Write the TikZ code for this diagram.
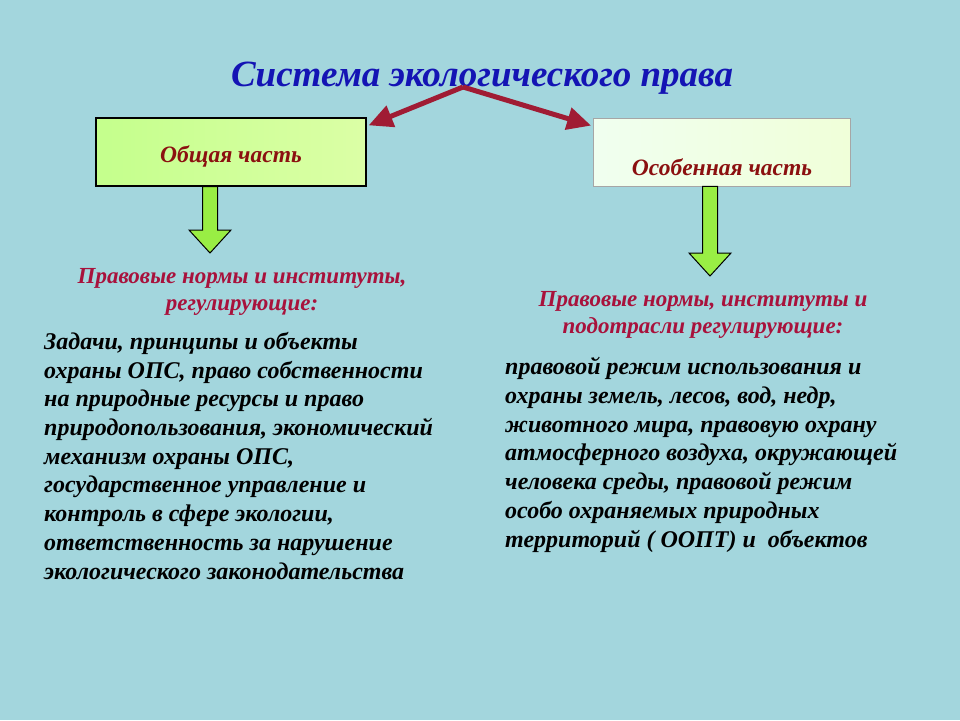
\documentclass[tikz,border=0pt]{standalone}
\usepackage{fontspec}
\setmainfont{Liberation Serif}
\usetikzlibrary{arrows.meta, positioning, calc}
\definecolor{cbg}{HTML}{A3D6DD}
\definecolor{ctitle}{HTML}{1414B4}
\definecolor{cwine}{HTML}{8B1010}
\definecolor{ccrimson}{HTML}{A8123C}
\definecolor{carrow}{HTML}{A01C34}
\definecolor{clime}{HTML}{99EE44}
\tikzset{
  every picture/.style={font=\bfseries\itshape},
  title/.style={text=ctitle, font=\fontsize{37}{42}\selectfont\bfseries\itshape},
  partbox/.style={draw=#1, line width=1.3pt, minimum width=270pt, minimum height=68pt, inner sep=0pt},
  partbox/.default=black,
  boxlabel/.style={text=cwine, font=\fontsize{23.5}{27}\selectfont\bfseries\itshape},
  heading/.style={text=ccrimson, align=center, font=\fontsize{23}{27}\selectfont\bfseries\itshape},
  body/.style={align=left, inner sep=0pt, anchor=base west, font=\fontsize{24}{28.7}\selectfont\bfseries\itshape},
  redarrow/.style={-{Triangle[length=24pt, width=22pt]}, draw=carrow, line width=5pt},
  fat/.style={draw=black, line width=1pt, fill=clime,
    to path={let \p1=(\tikztostart), \p2=(\tikztotarget) in
      (\x1-7.5pt,\y1) -- (\x1-7.5pt,\y2+23pt) -- (\x1-21pt,\y2+23pt) -- (\x2,\y2)
      -- (\x1+21pt,\y2+23pt) -- (\x1+7.5pt,\y2+23pt) -- (\x1+7.5pt,\y1) -- cycle}},
}
\begin{document}
\begin{tikzpicture}[x=1pt, y=-1pt]
  \fill[cbg] (0,0) rectangle (960,720);
  \node[title] (ttl) at (482,78) {Система экологического права};
  % two parts
  \node[partbox, left color=green!35!lime!45!white, right color=green!20!lime!35!white] (gen) at (231,152) {};
  \node[boxlabel] at ([yshift=-4pt]gen.center) {Общая часть};
  \node[partbox=gray!70, line width=0.8pt, minimum width=257pt, left color=green!6!white, right color=green!18!lime!15!white] (spe) at (722,152) {};
  \node[boxlabel] at ([yshift=-15pt]spe.center) {Особенная часть};
  \coordinate (apex) at (463,87);
  \draw[redarrow] (apex) -- ([xshift=2pt, yshift=-8pt]gen.north east);
  \draw[redarrow] (apex) -- ([xshift=-2pt, yshift=-8pt]spe.north west);
  % down arrows
  \coordinate (ltip) at (210,253);
  \coordinate (rtip) at (710,276);
  \draw[fat] (gen.south -| ltip) to (ltip);
  \draw[fat] (spe.south -| rtip) to (rtip);
  % texts
  \node[heading] (lhead) at (242,292) {Правовые нормы и институты,\\регулирующие:};
  \node[heading] (rhead) at (703,315) {Правовые нормы, институты и\\подотрасли регулирующие:};
  \node[body] (lbody) at (44,579) {Задачи, принципы и объекты\\
    охраны ОПС, право собственности\\
    на природные ресурсы и право\\
    природопользования, экономический\\
    механизм охраны ОПС,\\
    государственное управление и\\
    контроль в сфере экологии,\\
    ответственность за нарушение\\
    экологического законодательства};
  \node[body] (rbody) at (505,547) {правовой режим использования и\\
    охраны земель, лесов, вод, недр,\\
    животного мира, правовую охрану\\
    атмосферного воздуха, окружающей\\
    человека среды, правовой режим\\
    особо охраняемых природных\\
    территорий ( ООПТ) и~ объектов};
\end{tikzpicture}
\end{document}
